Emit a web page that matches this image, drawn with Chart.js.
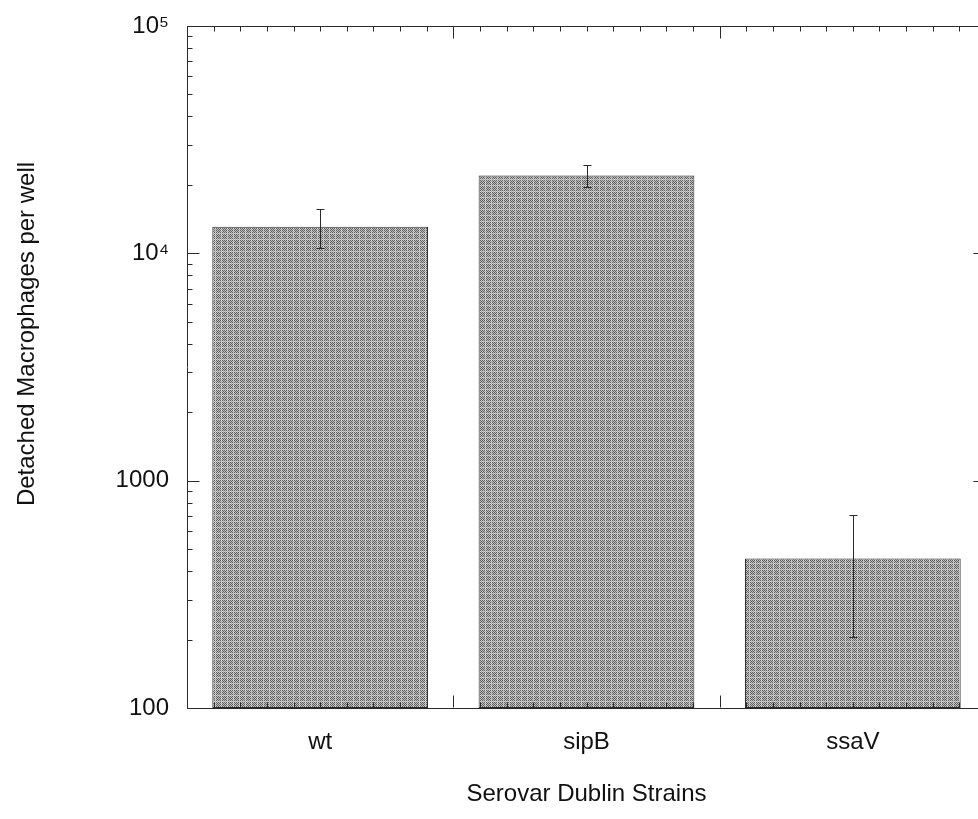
<!DOCTYPE html>
<html>
<head>
<meta charset="utf-8">
<script src="https://cdn.jsdelivr.net/npm/chart.js@4.4.1/dist/chart.umd.min.js"></script>
<style>
  html, body { margin: 0; padding: 0; background: #fff; overflow: hidden; }
  canvas { display: block; }
</style>
</head>
<body>
<canvas id="c" width="990" height="819"></canvas>
<script>
// ---- data ----
const strains = ['wt', 'sipB', 'ssaV'];
const detached = [13100, 22000, 455];
const errors = [2580, 2400, 250];
const yTickValues = [100, 1000, 10000, 100000];
const yTickLabels = ['100', '1000', '10\u2074', '10\u2075'];
const yTitle = 'Detached Macrophages per well';
const xTitle = 'Serovar Dublin Strains';

const FONT = "'Liberation Sans', Arial, Helvetica, sans-serif";
const INK = '#2a2a2a';

// ---- bar texture ----
function makePattern() {
  const p = document.createElement('canvas');
  p.width = 6; p.height = 6;
  const g = p.getContext('2d');
  for (let i = 0; i < 6; i++) {
    for (let j = 0; j < 6; j++) {
      let c = ((i + j) % 2 === 0) ? '#5e5e5e' : '#c0c0c0';
      if (i === 5 || j === 5) c = ((i + j) % 2 === 0) ? '#a8a8a8' : '#d8d8d8';
      g.fillStyle = c;
      g.fillRect(i, j, 1, 1);
    }
  }
  return document.getElementById('c').getContext('2d').createPattern(p, 'repeat');
}

const errorBars = {
  id: 'errorBars',
  afterDatasetsDraw(chart) {
    const { ctx, scales: { y } } = chart;
    const meta = chart.getDatasetMeta(0);
    ctx.save();
    ctx.strokeStyle = INK;
    ctx.lineWidth = 1;
    meta.data.forEach((bar, i) => {
      const x = Math.round(bar.x) + 0.5;
      const yt = Math.round(y.getPixelForValue(detached[i] + errors[i])) + 0.5;
      const yb = Math.round(y.getPixelForValue(detached[i] - errors[i])) + 0.5;
      ctx.beginPath();
      ctx.moveTo(x, yt); ctx.lineTo(x, yb);
      ctx.moveTo(x - 4, yt); ctx.lineTo(x + 4, yt);
      ctx.moveTo(x - 4, yb); ctx.lineTo(x + 4, yb);
      ctx.stroke();
    });
    ctx.restore();
  }
};

const frameTicks = {
  id: 'frameTicks',
  afterDraw(chart) {
    const { ctx, chartArea: a, scales: { x, y } } = chart;
    ctx.save();
    ctx.strokeStyle = INK;
    ctx.lineWidth = 1;
    const L = a.left + 0.5, R = a.right - 0.5, T = a.top + 0.5, B = a.bottom - 0.5;
    ctx.beginPath();
    ctx.moveTo(L, T); ctx.lineTo(R, T);
    ctx.moveTo(R, T); ctx.lineTo(R, B);
    for (let e = 2; e <= 5; e++) {
      const base = Math.pow(10, e);
      const py = Math.round(y.getPixelForValue(base)) + 0.5;
      ctx.moveTo(L, py); ctx.lineTo(L + 12, py);
      ctx.moveTo(R, py); ctx.lineTo(R - 12, py);
      if (e < 5) {
        for (let k = 2; k <= 9; k++) {
          const pm = Math.round(y.getPixelForValue(k * base)) + 0.5;
          ctx.moveTo(L, pm); ctx.lineTo(L + 5, pm);
          ctx.moveTo(R, pm); ctx.lineTo(R - 5, pm);
        }
      }
    }
    const n = strains.length;
    for (let i = 0; i < n; i++) {
      for (let j = 0; j < 10; j++) {
        if (i === 0 && j === 0) continue;
        const px = Math.round(x.getPixelForValue(i - 0.5 + j / 10)) + 0.5;
        const len = (j === 0) ? 12 : 5;
        ctx.moveTo(px, T); ctx.lineTo(px, T + len);
        ctx.moveTo(px, B); ctx.lineTo(px, B - len);
      }
    }
    ctx.stroke();

    // y-axis title (placed a little above the axis centre, as in the original)
    ctx.fillStyle = '#111';
    ctx.font = '24px ' + FONT;
    ctx.textAlign = 'center';
    ctx.textBaseline = 'middle';
    ctx.translate(27, 334);
    ctx.rotate(-Math.PI / 2);
    ctx.fillText(yTitle, 0, 0);
    ctx.restore();
  }
};

Chart.defaults.font.family = FONT;
Chart.defaults.font.size = 24;
Chart.defaults.color = '#111';

new Chart(document.getElementById('c'), {
  type: 'bar',
  data: {
    labels: strains,
    datasets: [{
      label: yTitle,
      data: detached,
      backgroundColor: makePattern(),
      borderColor: INK,
      borderWidth: 1,
      borderSkipped: false,
      barPercentage: 0.81,
      categoryPercentage: 1.0
    }]
  },
  options: {
    responsive: false,
    animation: false,
    layout: { padding: { top: 26, right: 4, left: 0, bottom: 0 } },
    plugins: { legend: { display: false }, tooltip: { enabled: false } },
    scales: {
      x: {
        type: 'category',
        offset: true,
        grid: { drawOnChartArea: false, drawTicks: false },
        border: { display: true, color: INK, width: 1 },
        ticks: { padding: 20, maxRotation: 0 },
        title: { display: true, text: xTitle, padding: { top: 0, bottom: 10 } },
        afterFit(s) { s.height = 111; s.paddingLeft = 0; s.paddingRight = 0; }
      },
      y: {
        type: 'logarithmic',
        min: 100,
        max: 100000,
        grid: { drawOnChartArea: false, drawTicks: false },
        border: { display: true, color: INK, width: 1 },
        afterBuildTicks(s) { s.ticks = yTickValues.map(v => ({ value: v })); },
        ticks: {
          padding: 18,
          callback(v) { const i = yTickValues.indexOf(v); return i >= 0 ? yTickLabels[i] : ''; }
        },
        title: { display: false },
        afterFit(s) { s.width = 187; s.paddingTop = 0; s.paddingBottom = 0; }
      }
    }
  },
  plugins: [errorBars, frameTicks]
});
</script>
</body>
</html>
